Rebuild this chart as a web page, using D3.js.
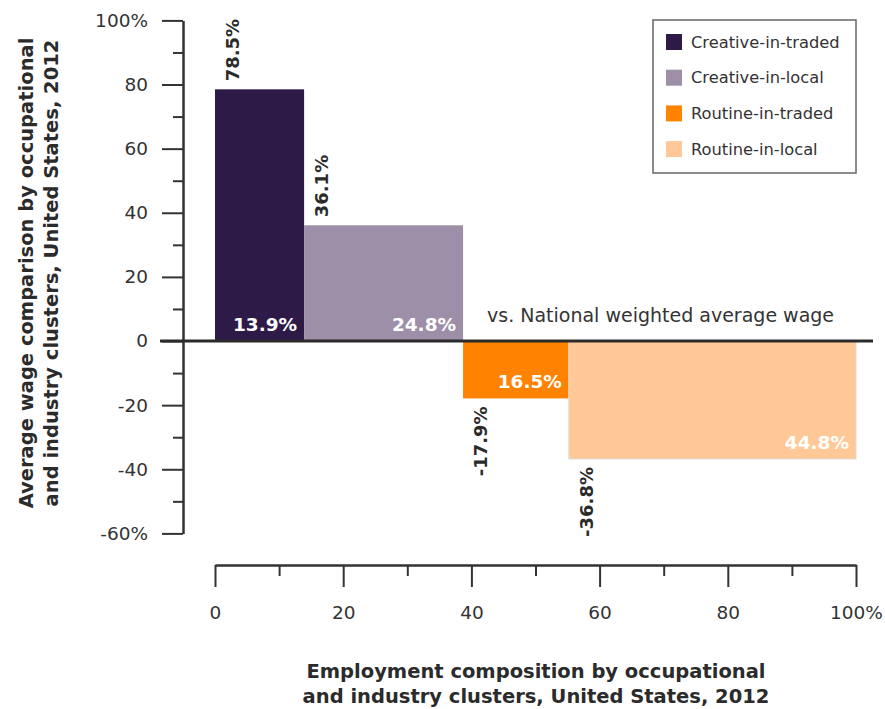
<!DOCTYPE html>
<html>
<head>
	<meta charset="utf-8">
	<title>Wage vs employment composition</title>
	<script src="https://d3js.org/d3.v7.min.js"></script>
	<style>
		body { margin: 0; background: #fff; }
		svg text { font-family: "DejaVu Sans", sans-serif; }
		.tick text { fill: #333; font-size: 18.5px; }
		.tick line, .domain { stroke: #333; stroke-width: 2; }
	</style>
</head>
<body>
<script>
	// Data
	var categories = ["Creative-in-traded", "Creative-in-local", "Routine-in-traded", "Routine-in-local"];
	var employmentShare = [13.9, 24.8, 16.5, 44.8];   // bar widths, % of employment
	var wageDiff = [78.5, 36.1, -17.9, -36.8];        // bar heights, % vs national average
	var colors = ["#2e1a47", "#9d8fa7", "#ff8200", "#ffc896"];
	var yMajor = [-60, -40, -20, 0, 20, 40, 60, 80, 100];
	var yMinor = [-50, -30, -10, 10, 30, 50, 70, 90];
	var xMajor = [0, 20, 40, 60, 80, 100];
	var xMinor = [10, 30, 50, 70, 90];

	var width = 885, height = 709;

	var svg = d3.select("body").append("svg")
		.attr("width", width)
		.attr("height", height);

	var x = d3.scaleLinear().domain([0, 100]).range([215, 856]);
	var y = d3.scaleLinear().domain([-60, 100]).range([533.4, 20.4]);

	var starts = [0].concat(Array.from(d3.cumsum(employmentShare))).slice(0, categories.length);
	var bars = categories.map(function(c, i) {
		return { name: c, share: employmentShare[i], wage: wageDiff[i], start: starts[i], color: colors[i] };
	});

	// y axis: minor ticks then major ticks with labels
	svg.append("g")
		.attr("transform", "translate(183,0)")
		.call(d3.axisLeft(y).tickValues(yMinor).tickSize(10).tickSizeOuter(0).tickFormat(""));
	svg.append("g")
		.attr("transform", "translate(183,0)")
		.call(d3.axisLeft(y).tickValues(yMajor).tickSize(21).tickSizeOuter(0).tickPadding(14)
			.tickFormat(function(d) { return (d == 100 || d == -60) ? d + "%" : d; }));

	// x axis, hanging below the plot
	var xAxisY = 565;
	svg.append("g")
		.attr("transform", "translate(0," + xAxisY + ")")
		.call(d3.axisBottom(x).tickValues(xMinor).tickSize(11).tickSizeOuter(0).tickFormat(""));
	svg.append("g")
		.attr("transform", "translate(0," + xAxisY + ")")
		.call(d3.axisBottom(x).tickValues(xMajor).tickSize(22).tickSizeOuter(0).tickPadding(19)
			.tickFormat(function(d) { return d == 100 ? d + "%" : d; }));

	// bars
	svg.selectAll("rect.bar")
		.data(bars)
		.enter().append("rect")
		.attr("class", "bar")
		.attr("x", function(d) { return x(d.start); })
		.attr("width", function(d) { return x(d.start + d.share) - x(d.start); })
		.attr("y", function(d) { return y(Math.max(0, d.wage)); })
		.attr("height", function(d) { return Math.abs(y(d.wage) - y(0)); })
		.attr("fill", function(d) { return d.color; })
		.attr("stroke", function(d, i) { return i == 3 ? "#ddd" : "none"; })
		.attr("stroke-width", 1);

	// zero line
	svg.append("line")
		.attr("x1", 160).attr("x2", 873)
		.attr("y1", y(0)).attr("y2", y(0))
		.attr("stroke", "#2b2b2b")
		.attr("stroke-width", 3);

	// wage labels, rotated
	svg.selectAll("text.wage")
		.data(bars)
		.enter().append("text")
		.attr("class", "wage")
		.attr("transform", function(d) {
			var ty = d.wage > 0 ? y(d.wage) - 8 : y(d.wage) + 8;
			return "translate(" + (x(d.start) + 24) + "," + ty + ") rotate(-90)";
		})
		.attr("text-anchor", function(d) { return d.wage > 0 ? "start" : "end"; })
		.attr("font-size", "18px")
		.attr("font-weight", "bold")
		.attr("fill", "#2b2b2b")
		.text(function(d) { return d.wage.toFixed(1) + "%"; });

	// share labels inside bars
	svg.selectAll("text.share")
		.data(bars)
		.enter().append("text")
		.attr("class", "share")
		.attr("x", function(d) { return x(d.start + d.share) - 7; })
		.attr("y", function(d) { return (d.wage > 0 ? y(0) : y(d.wage)) - 10; })
		.attr("text-anchor", "end")
		.attr("font-size", "18.5px")
		.attr("font-weight", "bold")
		.attr("fill", "#fff")
		.text(function(d) { return d.share.toFixed(1) + "%"; });

	svg.append("text")
		.attr("x", 487).attr("y", 322)
		.attr("font-size", "19px")
		.attr("fill", "#333")
		.text("vs. National weighted average wage");

	// legend
	var legend = svg.append("g").attr("transform", "translate(653,20)");
	legend.append("rect")
		.attr("width", 203).attr("height", 153)
		.attr("fill", "#fff").attr("stroke", "#666").attr("stroke-width", 1.5);
	var item = legend.selectAll("g.item")
		.data(bars)
		.enter().append("g")
		.attr("transform", function(d, i) { return "translate(13," + (14 + i * 35.7) + ")"; });
	item.append("rect")
		.attr("width", 16).attr("height", 16)
		.attr("fill", function(d) { return d.color; });
	item.append("text")
		.attr("x", 25).attr("y", 8).attr("dy", "0.35em")
		.attr("font-size", "16.3px")
		.attr("fill", "#333")
		.text(function(d) { return d.name; });

	// axis titles
	var yTitle = svg.append("text")
		.attr("transform", "translate(0,273) rotate(-90)")
		.attr("text-anchor", "middle")
		.attr("font-size", "19.5px")
		.attr("font-weight", "bold")
		.attr("fill", "#2b2b2b");
	yTitle.append("tspan").attr("x", 0).attr("y", 33).text("Average wage comparison by occupational");
	yTitle.append("tspan").attr("x", 0).attr("y", 58).text("and industry clusters, United States, 2012");

	var xTitle = svg.append("text")
		.attr("text-anchor", "middle")
		.attr("font-size", "19.5px")
		.attr("font-weight", "bold")
		.attr("fill", "#2b2b2b");
	xTitle.append("tspan").attr("x", 536).attr("y", 678).text("Employment composition by occupational");
	xTitle.append("tspan").attr("x", 536).attr("y", 703).text("and industry clusters, United States, 2012");
</script>
</body>
</html>
